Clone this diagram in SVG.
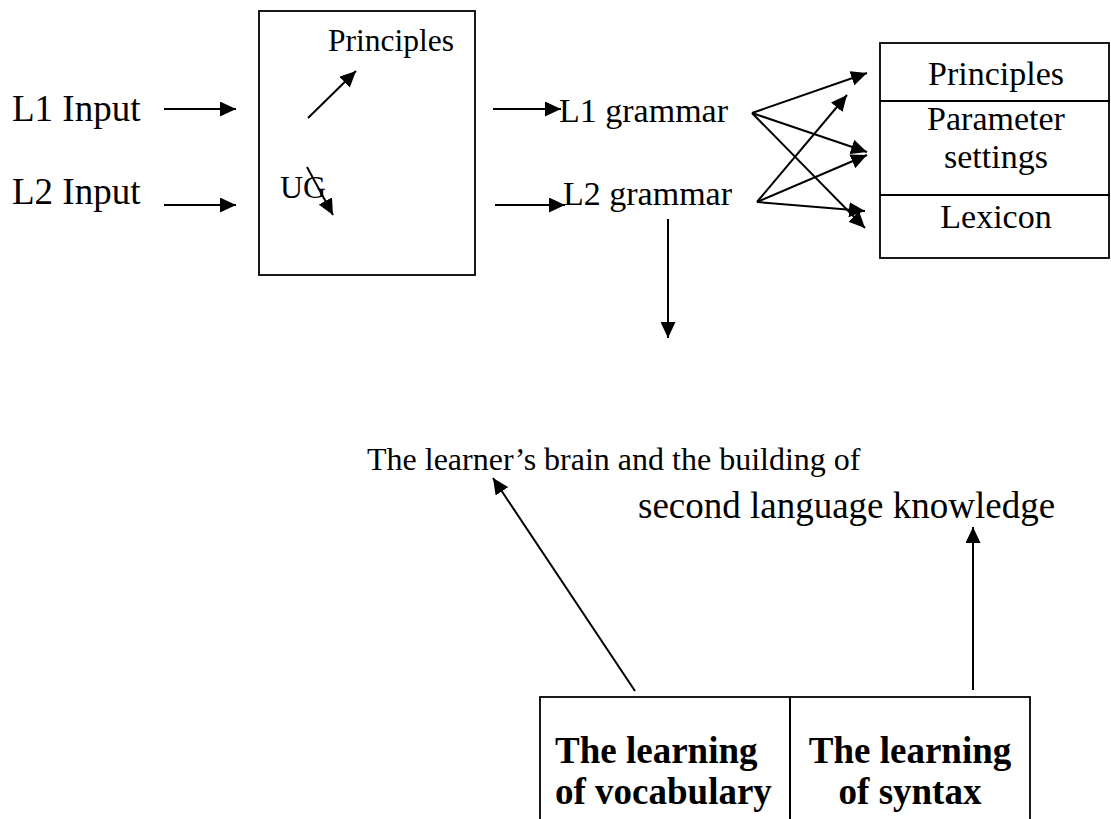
<svg xmlns="http://www.w3.org/2000/svg" width="1111" height="819" viewBox="0 0 1111 819">
  <style>
    .t { font-family: "Liberation Serif", "Times New Roman", serif; fill: #000; }
    .b { font-family: "Liberation Serif", "Times New Roman", serif; font-weight: bold; fill: #000; }
    .box { fill: none; stroke: #000; stroke-width: 1.8; }
    .ln { stroke: #000; stroke-width: 2; fill: none; }
    .arr { stroke: #000; stroke-width: 2; fill: none; marker-end: url(#head); }
  </style>
  <defs>
    <marker id="head" markerUnits="userSpaceOnUse" markerWidth="16" markerHeight="15" refX="16" refY="7.5" orient="auto">
      <path d="M0,0 L16,7.5 L0,15 Z" fill="#000"/>
    </marker>
  </defs>

  <rect width="1111" height="819" fill="#fff"/>

  <!-- inputs -->
  <g id="l1-input">
    <text class="t" x="12" y="121" font-size="37">L1 Input</text>
  </g>
  <g id="l2-input">
    <text class="t" x="12" y="204" font-size="37">L2 Input</text>
  </g>

  <!-- universal grammar box -->
  <g id="ug">
    <rect class="box" x="259" y="11" width="216" height="264"/>
    <text class="t" x="328" y="51" font-size="31.5">Principles</text>
    <text class="t" x="280" y="198" font-size="32">UG</text>
  </g>

  <!-- resulting grammars -->
  <g id="l1-grammar">
    <text class="t" x="559" y="122" font-size="34">L1 grammar</text>
  </g>
  <g id="l2-grammar">
    <text class="t" x="563" y="205" font-size="34">L2 grammar</text>
  </g>

  <!-- components of a grammar -->
  <g id="components">
    <rect class="box" x="880" y="43" width="229" height="215"/>
    <line class="ln" x1="880" y1="101" x2="1110" y2="101" stroke-width="1.8"/>
    <line class="ln" x1="880" y1="195" x2="1110" y2="195" stroke-width="1.8"/>
    <text class="t" x="996" y="85" font-size="34" text-anchor="middle">Principles</text>
    <text class="t" x="996" y="130" font-size="34" text-anchor="middle">Parameter</text>
    <text class="t" x="996" y="168" font-size="34" text-anchor="middle">settings</text>
    <text class="t" x="996" y="228" font-size="34" text-anchor="middle">Lexicon</text>
  </g>

  <!-- caption in the middle -->
  <g id="caption">
    <text class="t" x="367" y="470" font-size="32">The learner’s brain and the building of</text>
    <text class="t" x="638" y="518" font-size="37">second language knowledge</text>
  </g>

  <!-- learning tasks -->
  <g id="learning">
    <rect class="box" x="540" y="697" width="490" height="140"/>
    <line class="ln" x1="790" y1="697" x2="790" y2="819" stroke-width="1.8"/>
    <text class="b" x="555" y="763" font-size="37">The learning</text>
    <text class="b" x="555" y="804" font-size="37">of vocabulary</text>
    <text class="b" x="910" y="763" font-size="37" text-anchor="middle">The learning</text>
    <text class="b" x="910" y="804" font-size="37" text-anchor="middle">of syntax</text>
  </g>

  <!-- connectors -->
  <g id="connectors">
    <line class="arr" x1="164" y1="109" x2="236" y2="109"/>
    <line class="arr" x1="164" y1="205" x2="236" y2="205"/>
    <line class="arr" x1="308" y1="118" x2="356" y2="71"/>
    <line class="arr" x1="307" y1="167" x2="333" y2="215"/>
    <line class="arr" x1="493" y1="109" x2="561" y2="109"/>
    <line class="arr" x1="495" y1="205" x2="565" y2="205"/>
    <line class="arr" x1="668" y1="219" x2="668" y2="338"/>
    <!-- L1 grammar to components -->
    <line class="arr" x1="752" y1="113" x2="867" y2="73"/>
    <line class="arr" x1="752" y1="113" x2="867" y2="152"/>
    <line class="arr" x1="752" y1="113" x2="865" y2="228"/>
    <!-- L2 grammar to components -->
    <line class="arr" x1="757" y1="202" x2="847" y2="95"/>
    <line class="arr" x1="757" y1="202" x2="867" y2="155"/>
    <line class="arr" x1="757" y1="202" x2="865" y2="211"/>
    <!-- learning tasks up to the caption -->
    <line class="arr" x1="635" y1="691" x2="493" y2="478"/>
    <line class="arr" x1="973" y1="690" x2="973" y2="527"/>
  </g>
</svg>
